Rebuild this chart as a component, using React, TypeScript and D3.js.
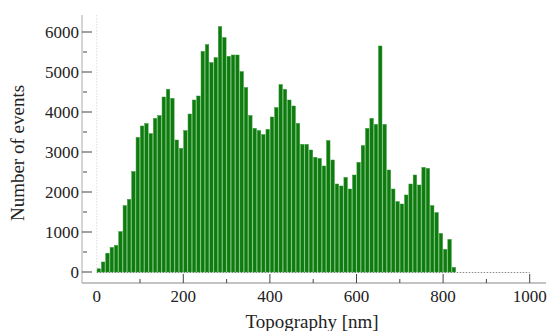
import { useRef, useEffect } from "react";
import * as d3 from "d3";

const W = 550;
const H = 331;

// histogram, 10 nm bins starting at 0
const BIN_WIDTH = 10;
const counts = [
  80, 250, 470, 615, 665, 1010, 1660, 1815, 2510, 3365,
  3650, 3710, 3460, 3840, 3910, 4375, 4565, 4340, 3300, 3090,
  3535, 3950, 4300, 4400, 5515, 5685, 5235, 5360, 6135, 5860,
  5390, 5425, 5425, 5010, 4610, 3910, 3590, 3535, 3435, 3565,
  3875, 4110, 4685, 4565, 4300, 4150, 3715, 3190, 3190, 3050,
  2865, 2840, 2650, 3285, 2800, 2200, 2150, 2365, 2075, 2425,
  2740, 3160, 3590, 3840, 3690, 5650, 3690, 2550, 2075, 1760,
  1700, 1925, 2200, 2425, 2175, 2615, 2590, 1660, 1485, 965,
  565, 815, 115,
];
const binStarts = counts.map((_c, i) => i * BIN_WIDTH);

const xTicks = [0, 200, 400, 600, 800, 1000];
const xMinorTicks = [100, 300, 500, 700, 900];
const yTicks = [0, 1000, 2000, 3000, 4000, 5000, 6000];
const yMinorTicks = [500, 1500, 2500, 3500, 4500, 5500];

const X_TITLE = "Topography [nm]";
const Y_TITLE = "Number of events";

const FONT = "'Liberation Serif', 'Times New Roman', serif";
const BAR = "#0f7a0f";
const BAR_EDGE = "#2f9a2f";

export default function App() {
  const svgRef = useRef<SVGSVGElement>(null);

  useEffect(() => {
    const svg = d3.select(svgRef.current);
    if (!svg.node()) return;
    svg.selectAll("*").remove();

    const x = d3.scaleLinear().domain([0, 1000]).range([96.7, 529.7]);
    const y = d3.scaleLinear().domain([0, 6000]).range([272, 32]);

    const spineX = 82;
    const spineY = 283;

    // zero-level dotted line and dotted line at x = 0
    svg
      .append("line")
      .attr("x1", x(0))
      .attr("x2", x(1000))
      .attr("y1", y(0) + 0.5)
      .attr("y2", y(0) + 0.5)
      .attr("stroke", "#888")
      .attr("stroke-width", 1)
      .attr("stroke-dasharray", "1.5,1.5");
    svg
      .append("line")
      .attr("x1", x(0))
      .attr("x2", x(0))
      .attr("y1", 15)
      .attr("y2", y(0))
      .attr("stroke", "#ddd")
      .attr("stroke-width", 1)
      .attr("stroke-dasharray", "1.5,1.5");

    // bars
    svg
      .selectAll(".bar")
      .data(counts)
      .enter()
      .append("rect")
      .attr("class", "bar")
      .attr("x", (_d, i) => x(binStarts[i]) + 0.4)
      .attr("width", (_d, i) => x(binStarts[i] + BIN_WIDTH) - x(binStarts[i]) - 0.9)
      .attr("y", (d) => y(d))
      .attr("height", (d) => y(0) - y(d))
      .attr("fill", BAR)
      .attr("stroke", BAR_EDGE)
      .attr("stroke-width", 0.5);

    // spines
    svg
      .append("line")
      .attr("x1", spineX)
      .attr("x2", spineX)
      .attr("y1", 15)
      .attr("y2", spineY)
      .attr("stroke", "#aaa");
    svg
      .append("line")
      .attr("x1", spineX)
      .attr("x2", 546)
      .attr("y1", spineY)
      .attr("y2", spineY)
      .attr("stroke", "#888");

    // y ticks
    svg
      .selectAll(".ytick")
      .data(yTicks)
      .enter()
      .append("line")
      .attr("x1", spineX)
      .attr("x2", spineX + 10)
      .attr("y1", (d) => y(d))
      .attr("y2", (d) => y(d))
      .attr("stroke", "#444");
    svg
      .selectAll(".yminor")
      .data(yMinorTicks)
      .enter()
      .append("line")
      .attr("x1", spineX + 1)
      .attr("x2", spineX + 5)
      .attr("y1", (d) => y(d))
      .attr("y2", (d) => y(d))
      .attr("stroke", "#444");
    svg
      .selectAll(".ylabel")
      .data(yTicks)
      .enter()
      .append("text")
      .attr("x", 79)
      .attr("y", (d) => y(d))
      .attr("dy", "0.35em")
      .attr("text-anchor", "end")
      .style("font-family", FONT)
      .style("font-size", "17px")
      .attr("fill", "#222")
      .text((d) => String(d));

    // x ticks
    svg
      .selectAll(".xtick")
      .data(xTicks.filter((d) => d > 0))
      .enter()
      .append("line")
      .attr("x1", (d) => x(d))
      .attr("x2", (d) => x(d))
      .attr("y1", spineY)
      .attr("y2", spineY - 9)
      .attr("stroke", "#444");
    svg
      .selectAll(".xminor")
      .data(xMinorTicks)
      .enter()
      .append("line")
      .attr("x1", (d) => x(d))
      .attr("x2", (d) => x(d))
      .attr("y1", spineY)
      .attr("y2", spineY - 4)
      .attr("stroke", "#444");
    svg
      .selectAll(".xlabel")
      .data(xTicks)
      .enter()
      .append("text")
      .attr("x", (d) => x(d))
      .attr("y", 302)
      .attr("text-anchor", "middle")
      .style("font-family", FONT)
      .style("font-size", "17px")
      .attr("fill", "#222")
      .text((d) => String(d));

    // titles
    svg
      .append("text")
      .attr("x", 312)
      .attr("y", 328)
      .attr("text-anchor", "middle")
      .style("font-family", FONT)
      .style("font-size", "19px")
      .attr("fill", "#222")
      .text(X_TITLE);
    svg
      .append("text")
      .attr("transform", "translate(24,153) rotate(-90)")
      .attr("text-anchor", "middle")
      .style("font-family", FONT)
      .style("font-size", "19px")
      .attr("fill", "#222")
      .text(Y_TITLE);
  }, []);

  return (
    <svg
      ref={svgRef}
      width={W}
      height={H}
      style={{ position: "absolute", left: 0, top: 0, background: "#fff" }}
    />
  );
}
